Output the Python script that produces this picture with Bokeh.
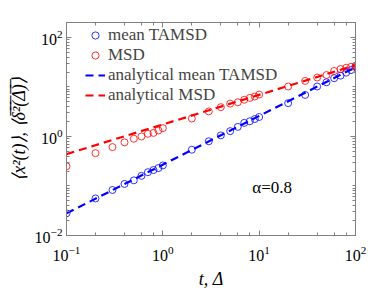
from bokeh.plotting import figure
from bokeh.models import (LogAxis, Legend, LegendItem, Label,
                          CustomJSTickFormatter, FixedTicker, LogTicker)
from bokeh.embed import file_html
from bokeh.resources import INLINE

# ---- data ----
t = [0.1, 0.2, 0.3, 0.4, 0.5, 0.6, 0.7, 0.8, 0.9, 1.0,
     2, 3, 4, 5, 6, 7, 8, 9, 10,
     20, 30, 40, 50, 60, 70, 80, 90, 100]
tamsd = [0.028, 0.056, 0.083, 0.11, 0.13, 0.16, 0.19, 0.21, 0.23, 0.26,
         0.54, 0.80, 1.05, 1.28, 1.56, 1.88, 2.03, 2.25, 2.47,
         4.7, 6.9, 10.2, 12.4, 15.0, 16.9, 19.4, 21.9, 25.5]
msd = [0.25, 0.46, 0.61, 0.76, 0.90, 1.00, 1.13, 1.18, 1.32, 1.47,
       2.3, 3.2, 3.9, 4.6, 4.9, 5.5, 6.0, 6.4, 7.0,
       10.2, 13.2, 15.5, 17.4, 21.0, 23.0, 24.4, 25.5, 26.8]
t_line = [0.1, 100]
tamsd_line = [0.028, 25.0]
msd_line = [0.44, 27.5]

y_major = [0.01, 1, 100]

labels = ["mean TAMSD", "MSD", "analytical mean TAMSD", "analytical MSD"]
alpha_text = "α=0.8"

FONT = "Liberation Serif"
AX = "#808080"

def minor_between(lo_exp, hi_exp, majors):
    out = []
    for e in range(lo_exp, hi_exp + 1):
        for k in range(1, 10):
            v = k * 10.0 ** e
            if all(abs(v - m) > 1e-12 * max(1, m) for m in majors):
                out.append(v)
    return out

y_minor = minor_between(-2, 2, y_major)

p = figure(width=392, height=294, x_axis_type="log", y_axis_type="log",
           x_range=(0.1, 100), y_range=(0.01, 200),
           output_backend="svg", toolbar_location=None,
           min_border_left=66, min_border_right=37,
           min_border_top=22, min_border_bottom=59)
p.grid.visible = False
p.outline_line_color = AX
p.background_fill_color = "white"

r_tam = p.scatter(t, tamsd, marker="circle", size=7, fill_color=None,
                  line_color="#0000ff", line_width=0.8)
r_msd = p.scatter(t, msd, marker="circle", size=7, fill_color=None,
                  line_color="#ff0000", line_width=0.8)
r_tl = p.line(t_line, tamsd_line, line_color="#0000ff", line_width=2.2,
              line_dash="8 5")
r_ml = p.line(t_line, msd_line, line_color="#ff0000", line_width=2.2,
              line_dash="8 5")

bottom = p.below[0]
left = p.left[0]
top = LogAxis(formatter=CustomJSTickFormatter(code="return ''"))
right = LogAxis(formatter=CustomJSTickFormatter(code="return ''"))
p.add_layout(top, "above")
p.add_layout(right, "right")

left.ticker = FixedTicker(ticks=y_major, minor_ticks=y_minor)
right.ticker = FixedTicker(ticks=y_major, minor_ticks=y_minor)
bottom.ticker = LogTicker()
top.ticker = LogTicker()

for ax in (bottom, left, top, right):
    ax.major_tick_in = 5
    ax.major_tick_out = 0
    ax.minor_tick_in = 3
    ax.minor_tick_out = 0
    ax.axis_line_color = AX
    ax.major_tick_line_color = AX
    ax.minor_tick_line_color = AX
    ax.major_label_text_font = FONT
    ax.major_label_text_font_size = "16px"
    ax.major_label_text_color = "black"

top.major_label_standoff = 0
right.major_label_standoff = 0

bottom.axis_label = "t, Δ"
left.axis_label = "⟨x²(t)⟩, ⟨δ̅²̅(̅Δ̅)̅⟩"
for ax in (bottom, left):
    ax.axis_label_text_font = FONT
    ax.axis_label_text_font_size = "18px"
    ax.axis_label_text_font_style = "italic"
    ax.axis_label_text_color = "black"
bottom.major_label_standoff = 10
bottom.axis_label_standoff = 5
left.major_label_standoff = 4
left.axis_label_standoff = 3

legend = Legend(items=[
    LegendItem(label=labels[0], renderers=[r_tam]),
    LegendItem(label=labels[1], renderers=[r_msd]),
    LegendItem(label=labels[2], renderers=[r_tl]),
    LegendItem(label=labels[3], renderers=[r_ml]),
], location=(19, 213 - 11 - 72), margin=0, padding=0, spacing=0,
    glyph_width=20, glyph_height=18, label_height=18, label_standoff=3,
    label_text_font=FONT, label_text_font_size="17px",
    border_line_alpha=0, background_fill_alpha=0)
p.add_layout(legend, "center")

p.add_layout(Label(x=8.5, y=0.095, text=alpha_text, text_font=FONT,
                   text_font_size="17px", text_baseline="middle",
                   text_color="black"))

open("out.html", "w").write(file_html(p, INLINE))
